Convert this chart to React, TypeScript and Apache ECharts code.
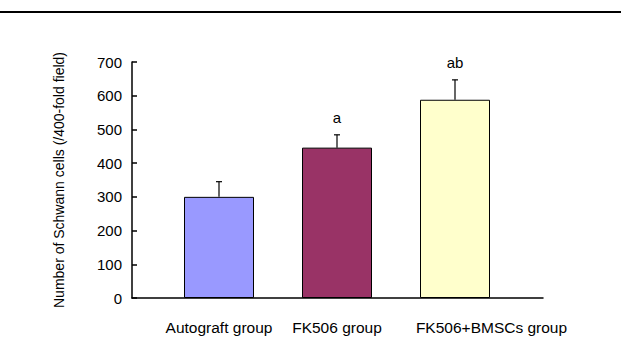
import React, { useEffect, useRef } from "react";
import * as echarts from "echarts";

const categories = ["Autograft group", "FK506 group", "FK506+BMSCs group"];
const means = [300, 446, 588];
const errors = [45, 38, 59];
const sigLabels = ["", "a", "ab"];
const barColors = ["#9999FF", "#993366", "#FFFFCC"];
const yTicks = { min: 0, max: 700, interval: 100 };
const yTitle = "Number of Schwann cells (/400-fold field)";

const FONT = "'Liberation Sans', Arial, sans-serif";

export default function App() {
  const ref = useRef<HTMLDivElement>(null);
  useEffect(() => {
    document.body.style.margin = "0";
    const chart = echarts.init(ref.current!, null, { renderer: "svg" });
    const errData = means.map((m, i) => [i, m, errors[i], sigLabels[i]]);
    chart.setOption({
      animation: false,
      backgroundColor: "#ffffff",
      textStyle: { fontFamily: FONT },
      grid: [
        { left: 160, right: 107, top: 62, bottom: 43 },
        { left: 132, right: 78, top: 62, bottom: 43 },
      ],
      xAxis: [
        {
          type: "category",
          gridIndex: 0,
          data: categories,
          axisLine: { show: false },
          axisTick: { show: false },
          axisLabel: {
            interval: 0,
            hideOverlap: false,
            color: "#000",
            fontSize: 15.5,
            fontFamily: FONT,
            margin: 21,
            formatter: (v: string, i: number) => (i === 2 ? "{s|" + v + "}" : v),
            rich: { s: { padding: [0, 0, 0, 73], fontSize: 15.5, color: "#000", fontFamily: FONT } },
          },
        },
        {
          type: "value",
          gridIndex: 1,
          min: 0,
          max: 1,
          axisLine: { show: true, onZero: false, lineStyle: { color: "#000", width: 1.5 } },
          axisTick: { show: false },
          axisLabel: { show: false },
          splitLine: { show: false },
        },
      ],
      yAxis: [
        {
          type: "value",
          gridIndex: 0,
          min: yTicks.min,
          max: yTicks.max,
          interval: yTicks.interval,
          offset: 28,
          name: yTitle,
          nameLocation: "middle",
          nameGap: 66,
          nameRotate: 90,
          nameTextStyle: { color: "#000", fontSize: 14, fontFamily: FONT },
          axisLine: { show: true, lineStyle: { color: "#000", width: 1.5 } },
          axisTick: { show: true, inside: true, length: 5, lineStyle: { color: "#000", width: 1.5 } },
          axisLabel: { color: "#000", fontSize: 15, fontFamily: FONT, margin: 10 },
          splitLine: { show: false },
        },
        {
          type: "value",
          gridIndex: 1,
          min: 0,
          max: 1,
          show: false,
        },
      ],
      series: [
        {
          type: "bar",
          xAxisIndex: 0,
          yAxisIndex: 0,
          barWidth: 70,
          data: means.map((m, i) => ({
            value: m,
            itemStyle: { color: barColors[i], borderColor: "#000", borderWidth: 1 },
          })),
        },
        {
          type: "custom",
          xAxisIndex: 0,
          yAxisIndex: 0,
          data: errData,
          z: 10,
          renderItem: (params: any, api: any) => {
            const idx = api.value(0);
            const m = api.value(1);
            const e = api.value(2);
            const lab = sigLabels[params.dataIndex];
            const base = api.coord([idx, m]);
            const top = api.coord([idx, m + e]);
            const style = { stroke: "#000", lineWidth: 1.2 };
            const children: any[] = [
              { type: "line", shape: { x1: base[0], y1: base[1], x2: top[0], y2: top[1] }, style },
              { type: "line", shape: { x1: top[0] - 3, y1: top[1], x2: top[0] + 3, y2: top[1] }, style },
            ];
            if (lab) {
              children.push({
                type: "text",
                style: {
                  text: lab,
                  x: top[0],
                  y: top[1] - 10,
                  textAlign: "center",
                  textVerticalAlign: "bottom",
                  fill: "#000",
                  fontSize: 15,
                  fontFamily: FONT,
                },
              });
            }
            return { type: "group", children };
          },
        },
      ],
      graphic: [
        {
          type: "line",
          shape: { x1: 0, y1: 12, x2: 621, y2: 12 },
          style: { stroke: "#000", lineWidth: 2 },
        },
      ],
    });
    return () => chart.dispose();
  }, []);
  return <div ref={ref} style={{ width: 621, height: 341 }} />;
}
